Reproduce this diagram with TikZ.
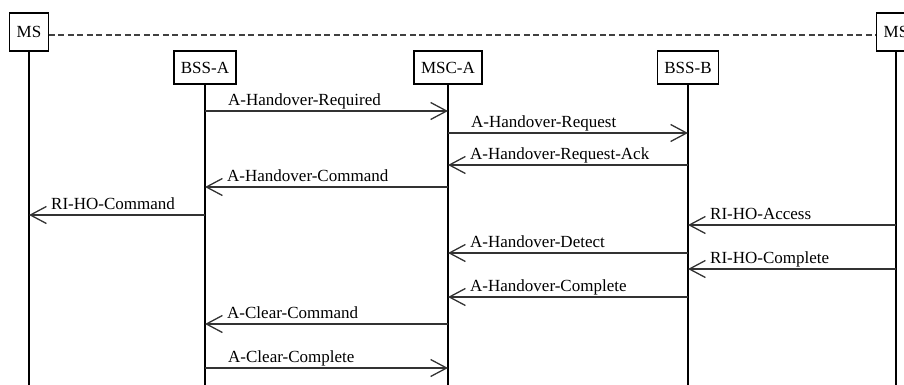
\documentclass[tikz,border=0pt]{standalone}
\usepackage{fontspec}
\setmainfont{Liberation Serif}
\usepackage{tikz}
\usetikzlibrary{arrows,arrows.meta,positioning,calc}

\tikzset{
  ent/.style={draw=black, line width=1.3pt, fill=white, inner xsep=7pt, minimum height=33pt},
  msbox/.style={ent, minimum height=38pt},
  life/.style={line width=2pt},
  msg/.style={line width=1.4pt, black!80, -{Straight Barb[length=16pt,width=17pt,line width=1.3pt]}},
  lbl/.style={anchor=base west, text=black, inner sep=0pt, font=\fontsize{17}{20}\selectfont}
}

\begin{document}
\begin{tikzpicture}[x=1pt, y=-1pt, font=\fontsize{17}{20}\selectfont]
  \useasboundingbox (0,0) rectangle (904,385);

  \node (msl) [msbox] at (29,32) {MS};
  \node (bssa) [ent] at (205,67.5) {BSS-A};
  \node (msca) [ent] at (448,67.5) {MSC-A};
  \node (bssb) [ent] at (688,67.5) {BSS-B};
  \node (msr) [msbox] at (896,32) {MS};

  \coordinate (bot) at (0,385);

  % life lines
  \draw[life] (msl) -- (msl |- bot);
  \draw[life] (bssa) -- (bssa |- bot);
  \draw[life] (msca) -- (msca |- bot);
  \draw[life] (bssb) -- (bssb |- bot);
  \draw[life] (msr) -- (msr |- bot);

  \draw[line width=1.2pt, black!75, dash pattern=on 6pt off 3.5pt] ($(msl.east)+(0,3)$) -- ($(msr.west)+(0,3)$);

  % message rows
  \coordinate (r1) at (0,111);
  \coordinate (r2) at (0,133);
  \coordinate (r3) at (0,165);
  \coordinate (r4) at (0,187);
  \coordinate (r5) at (0,215);
  \coordinate (r6) at (0,225);
  \coordinate (r7) at (0,253);
  \coordinate (r8) at (0,269);
  \coordinate (r9) at (0,297);
  \coordinate (r10) at (0,324);
  \coordinate (r11) at (0,368);

  % left to right
  \draw[msg] (bssa |- r1) -- (msca |- r1);
  \draw[msg] (msca |- r2) -- (bssb |- r2);
  \draw[msg] (bssa |- r11) -- (msca |- r11);
  % right to left
  \draw[msg] (bssb |- r3) -- (msca |- r3);
  \draw[msg] (msca |- r4) -- (bssa |- r4);
  \draw[msg] (bssa |- r5) -- (msl |- r5);
  \draw[msg] (msr |- r6) -- (bssb |- r6);
  \draw[msg] (bssb |- r7) -- (msca |- r7);
  \draw[msg] (msr |- r8) -- (bssb |- r8);
  \draw[msg] (bssb |- r9) -- (msca |- r9);
  \draw[msg] (msca |- r10) -- (bssa |- r10);

  \node (l1) [lbl] at ($(bssa |- r1)+(23,-5)$) {A-Handover-Required};
  \node (l2) [lbl] at ($(msca |- r2)+(23,-5)$) {A-Handover-Request};
  \node (l3) [lbl] at ($(msca |- r3)+(22,-6)$) {A-Handover-Request-Ack};
  \node (l4) [lbl] at ($(bssa |- r4)+(22,-6)$) {A-Handover-Command};
  \node (l5) [lbl] at ($(msl |- r5)+(22,-6)$) {RI-HO-Command};
  \node (l6) [lbl] at ($(bssb |- r6)+(22,-6)$) {RI-HO-Access};
  \node (l7) [lbl] at ($(msca |- r7)+(22,-6)$) {A-Handover-Detect};
  \node (l8) [lbl] at ($(bssb |- r8)+(22,-6)$) {RI-HO-Complete};
  \node (l9) [lbl] at ($(msca |- r9)+(22,-6)$) {A-Handover-Complete};
  \node (l10) [lbl] at ($(bssa |- r10)+(22,-6)$) {A-Clear-Command};
  \node (l11) [lbl] at ($(bssa |- r11)+(23,-6)$) {A-Clear-Complete};
\end{tikzpicture}
\end{document}
